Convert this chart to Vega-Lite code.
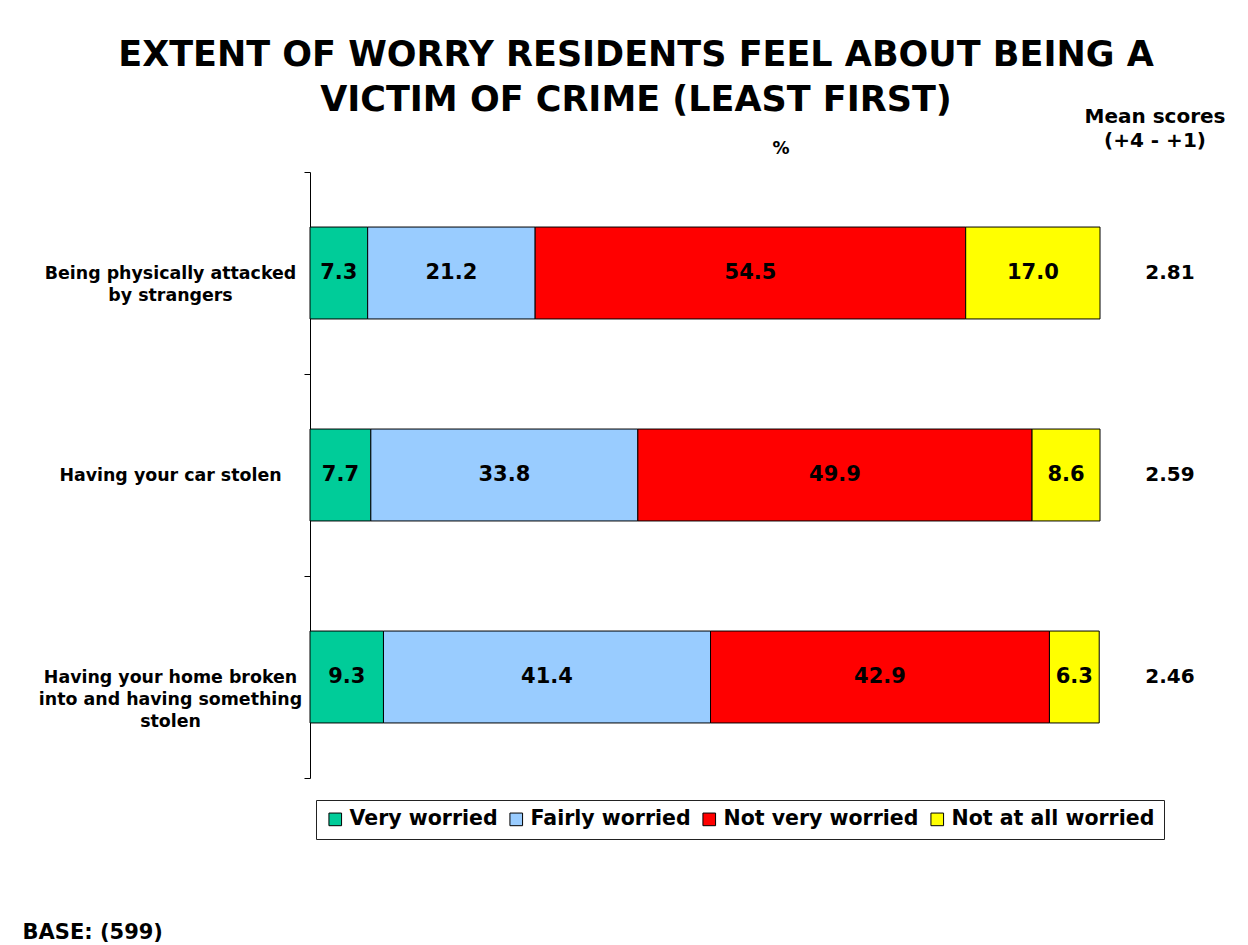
{
  "$schema": "https://vega.github.io/schema/vega-lite/v6.json",
  "autosize": {"type": "pad"},
  "padding": {"left": 22, "top": 38, "right": 3, "bottom": 5},
  "bounds": "flush",
  "spacing": 0,
  "background": "white",
  "title": {
    "text": ["EXTENT OF WORRY RESIDENTS FEEL ABOUT BEING A", "VICTIM OF CRIME (LEAST FIRST)"],
    "anchor": "middle",
    "frame": "group",
    "dx": 326,
    "offset": -11,
    "fontSize": 35,
    "font": "DejaVu Sans",
    "fontWeight": "bold",
    "lineHeight": 45,
    "color": "black"
  },
  "datasets": {
    "pct": [
      {"item": "Being physically attacked\nby strangers", "response": "Very worried", "o": 1, "value": 7.3},
      {"item": "Being physically attacked\nby strangers", "response": "Fairly worried", "o": 2, "value": 21.2},
      {"item": "Being physically attacked\nby strangers", "response": "Not very worried", "o": 3, "value": 54.5},
      {"item": "Being physically attacked\nby strangers", "response": "Not at all worried", "o": 4, "value": 17.0},
      {"item": "Having your car stolen", "response": "Very worried", "o": 1, "value": 7.7},
      {"item": "Having your car stolen", "response": "Fairly worried", "o": 2, "value": 33.8},
      {"item": "Having your car stolen", "response": "Not very worried", "o": 3, "value": 49.9},
      {"item": "Having your car stolen", "response": "Not at all worried", "o": 4, "value": 8.6},
      {"item": "Having your home broken\ninto and having something\nstolen", "response": "Very worried", "o": 1, "value": 9.3},
      {"item": "Having your home broken\ninto and having something\nstolen", "response": "Fairly worried", "o": 2, "value": 41.4},
      {"item": "Having your home broken\ninto and having something\nstolen", "response": "Not very worried", "o": 3, "value": 42.9},
      {"item": "Having your home broken\ninto and having something\nstolen", "response": "Not at all worried", "o": 4, "value": 6.3}
    ],
    "mean": [
      {"item": "Being physically attacked\nby strangers", "score": 2.81},
      {"item": "Having your car stolen", "score": 2.59},
      {"item": "Having your home broken\ninto and having something\nstolen", "score": 2.46}
    ]
  },
  "hconcat": [
    {
      "width": 790,
      "height": 606,
      "title": {"text": "%", "dx": 76, "offset": -8, "fontSize": 17, "baseline": "alphabetic"},
      "data": {"name": "pct"},
      "encoding": {
        "y": {
          "field": "item",
          "type": "nominal",
          "sort": ["Being physically attacked\nby strangers", "Having your car stolen", "Having your home broken\ninto and having something\nstolen"],
          "scale": {"paddingInner": 0, "paddingOuter": 0},
          "axis": {
            "title": null,
            "domainColor": "black",
            "tickColor": "black",
            "tickSize": 6,
            "tickBand": "extent",
            "labelAlign": "center",
            "labelBaseline": "middle",
            "labelPadding": 134,
            "labelFontSize": 17.4,
            "labelFontWeight": "bold",
            "labelColor": "black",
            "labelLineHeight": 22,
            "labelLimit": 0,
            "labelExpr": "split(datum.label, '\\n')"
          }
        }
      },
      "layer": [
        {
          "mark": {"type": "bar", "height": {"band": 0.455}, "stroke": "black", "strokeWidth": 1},
          "encoding": {
            "x": {
              "field": "value",
              "type": "quantitative",
              "stack": "zero",
              "scale": {"domain": [0, 100], "nice": false},
              "axis": {
                "labels": false,
                "ticks": false,
                "domain": false,
                "grid": false,
                "title": "BASE: (599)",
                "titleX": -288,
                "titleY": 160,
                "titleAlign": "left",
                "titleBaseline": "alphabetic",
                "titleFontSize": 21,
                "titleFontWeight": "bold",
                "titleColor": "black"
              }
            },
            "color": {
              "field": "response",
              "type": "nominal",
              "scale": {
                "domain": ["Very worried", "Fairly worried", "Not very worried", "Not at all worried"],
                "range": ["#00CC99", "#99CCFF", "#FF0000", "#FFFF00"]
              },
              "legend": {
                "title": null,
                "orient": "none",
                "direction": "horizontal",
                "legendX": 6,
                "legendY": 628
              }
            },
            "order": {"field": "o"}
          }
        },
        {
          "mark": {"type": "text", "fontSize": 21, "fontWeight": "bold", "color": "black", "baseline": "middle"},
          "encoding": {
            "x": {"field": "value", "type": "quantitative", "stack": "zero", "bandPosition": 0.5},
            "detail": {"field": "response"},
            "order": {"field": "o"},
            "text": {"field": "value", "type": "quantitative", "format": ".1f"}
          }
        }
      ]
    },
    {
      "width": 140,
      "height": 606,
      "title": {"text": ["Mean scores", "(+4 - +1)"], "dx": -15, "offset": 5, "fontSize": 20, "lineHeight": 24, "baseline": "alphabetic"},
      "data": {"name": "mean"},
      "mark": {"type": "text", "fontSize": 20, "fontWeight": "bold", "color": "black", "baseline": "middle"},
      "encoding": {
        "y": {
          "field": "item",
          "type": "nominal",
          "sort": ["Being physically attacked\nby strangers", "Having your car stolen", "Having your home broken\ninto and having something\nstolen"],
          "scale": {"paddingInner": 0, "paddingOuter": 0},
          "axis": null
        },
        "text": {"field": "score", "type": "quantitative", "format": ".2f"}
      }
    }
  ],
  "config": {
    "font": "DejaVu Sans",
    "view": {"stroke": null},
    "title": {"fontWeight": "bold", "color": "black"},
    "legend": {
      "symbolType": "square",
      "symbolSize": 160,
      "symbolStrokeColor": "black",
      "symbolStrokeWidth": 1,
      "symbolOpacity": 1,
      "labelFontSize": 20.5,
      "labelFontWeight": "bold",
      "labelColor": "black",
      "labelLimit": 0,
      "labelOffset": 4,
      "columnPadding": 8,
      "padding": 9,
      "strokeColor": "#222222",
      "fillColor": "white"
    }
  }
}
